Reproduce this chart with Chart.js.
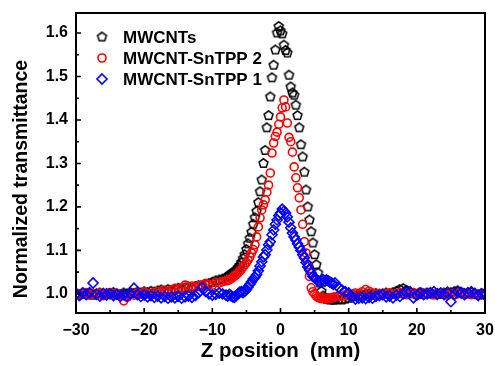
<!DOCTYPE html>
<html>
<head>
<meta charset="utf-8">
<script src="https://cdn.jsdelivr.net/npm/chart.js"></script>
<style>
  html, body { margin: 0; padding: 0; background: #fff; }
  canvas { display: block; }
</style>
</head>
<body>
<canvas id="zscan" width="495" height="366"></canvas>
<script>
// z positions (mm), shared by all three series
var zPos = [
  -30,-29.5,-29,-28.5,-28,-27.5,-27,-26.5,-26,-25.5,
  -25,-24.5,-24,-23.5,-23,-22.5,-22,-21.5,-21,-20.5,
  -20,-19.5,-19,-18.5,-18,-17.5,-17,-16.5,-16,-15.5,
  -15,-14.5,-14,-13.5,-13,-12.5,-12,-11.5,-11,-10.5,
  -10,-9.5,-9,-8.5,-8,
  -7.75,-7.5,-7.25,-7,-6.75,-6.5,-6.25,-6,-5.75,-5.5,
  -5.25,-5,-4.75,-4.5,-4.25,-4,-3.75,-3.5,-3.25,-3,
  -2.75,-2.5,-2.25,-2,-1.75,-1.5,-1.25,-1,-0.75,-0.5,
  -0.25,0,0.25,0.5,0.75,1,1.25,1.5,1.75,2,
  2.25,2.5,2.75,3,3.25,3.5,3.75,4,4.25,4.5,
  4.75,5,5.25,5.5,5.75,6,6.25,6.5,6.75,7,
  7.25,7.5,7.75,
  8,8.5,9,9.5,10,10.5,11,11.5,12,12.5,
  13,13.5,14,14.5,15,15.5,16,16.5,17,17.5,
  18,18.5,19,19.5,20,20.5,21,21.5,22,22.5,
  23,23.5,24,24.5,25,25.5,26,26.5,27,27.5,
  28,28.5,29,29.5,30
];

var mwcnt = [
  1.000,0.998,1.002,0.999,1.001,0.997,1.000,1.002,0.998,1.001,
  0.999,1.003,1.000,0.998,1.002,1.000,1.003,1.001,1.004,1.002,
  1.005,1.003,1.006,1.004,1.007,1.009,1.006,1.010,1.008,1.011,
  1.013,1.010,1.014,1.016,1.013,1.017,1.019,1.018,1.022,1.024,
  1.027,1.030,1.032,1.034,1.037,
  1.040,1.043,1.046,1.048,1.051,1.055,1.060,1.065,1.072,1.081,
  1.090,1.102,1.115,1.128,1.142,1.160,1.175,1.190,1.210,1.235,
  1.262,1.300,1.330,1.382,1.410,1.453,1.497,1.526,1.561,1.600,
  1.615,1.605,1.598,1.572,1.560,1.554,1.503,1.476,1.462,1.457,
  1.434,1.410,1.382,1.343,1.315,1.280,1.239,1.200,1.170,1.143,
  1.117,1.090,1.067,1.048,1.025,1.006,0.995,0.990,0.988,0.987,
  0.986,0.987,0.986,
  0.986,0.987,0.986,0.988,0.990,0.993,0.995,0.997,0.997,0.999,
  1.000,0.998,1.001,0.999,1.000,1.002,1.000,1.003,1.006,1.010,
  1.012,1.008,1.003,1.000,0.998,1.001,0.999,1.002,1.000,0.998,
  1.001,0.999,1.002,1.000,1.003,1.005,1.007,1.004,1.001,1.000,
  1.003,1.000,0.998,1.001,1.000
];

var snTPP2 = [
  1.002,0.998,1.000,1.003,0.997,1.001,0.999,1.002,0.996,1.000,
  1.003,0.998,1.001,0.995,0.984,0.992,1.000,0.997,1.002,0.999,
  1.004,1.001,0.998,1.003,1.006,1.004,1.008,1.005,1.009,1.012,
  1.010,1.014,1.020,1.016,1.018,1.015,1.019,1.021,1.024,1.022,
  1.020,1.026,1.025,1.028,1.030,
  1.031,1.032,1.035,1.038,1.041,1.044,1.048,1.052,1.056,1.062,
  1.067,1.072,1.078,1.085,1.094,1.102,1.113,1.131,1.154,1.175,
  1.193,1.205,1.216,1.234,1.250,1.278,1.324,1.347,1.362,1.372,
  1.390,1.407,1.428,1.446,1.430,1.393,1.360,1.350,1.326,1.292,
  1.267,1.244,1.221,1.193,1.160,1.120,1.094,1.067,1.040,1.014,
  1.005,1.000,0.995,0.992,0.990,0.989,0.991,0.988,0.990,0.989,
  0.991,0.990,0.992,
  0.993,0.995,0.994,0.997,0.996,0.999,1.002,1.000,1.005,1.010,
  1.006,1.002,0.999,1.001,0.998,1.000,1.002,0.999,1.001,1.003,
  1.000,0.998,1.001,1.003,1.000,1.004,1.002,0.999,1.001,0.998,
  1.000,1.002,0.999,0.997,1.001,0.998,1.000,1.002,0.999,1.001,
  0.998,1.000,0.997,0.999,0.996
];

var snTPP1 = [
  1.000,0.996,1.002,0.998,1.003,1.025,0.999,0.995,1.001,0.997,
  1.000,0.996,0.999,0.994,0.998,0.995,1.000,1.013,0.998,0.994,
  0.997,0.993,0.996,0.992,0.995,0.991,0.994,0.990,0.993,0.991,
  0.994,0.990,0.993,0.995,0.992,0.996,1.003,1.014,1.006,1.000,
  0.997,0.999,1.002,1.000,0.997,
  0.995,0.999,0.996,0.993,0.992,0.996,1.000,1.004,1.005,1.003,
  1.006,1.010,1.016,1.022,1.028,1.034,1.038,1.044,1.053,1.064,
  1.074,1.085,1.090,1.101,1.113,1.120,1.136,1.147,1.160,1.170,
  1.180,1.186,1.195,1.190,1.186,1.177,1.165,1.152,1.140,1.131,
  1.124,1.115,1.108,1.100,1.090,1.083,1.072,1.062,1.055,1.048,
  1.040,1.037,1.034,1.030,1.028,1.031,1.033,1.029,1.032,1.030,
  1.027,1.025,1.022,
  1.025,1.015,1.009,1.005,1.002,0.993,0.988,0.990,0.991,0.989,
  0.992,0.990,0.994,0.996,0.998,0.993,0.995,0.991,0.997,0.994,
  1.000,1.004,1.005,0.991,0.997,1.002,0.998,1.000,1.003,1.005,
  0.999,1.002,0.998,1.004,0.982,0.999,1.005,1.002,0.998,1.003,
  1.005,1.001,0.996,1.000,0.998
];

var seriesNames = ['MWCNTs', 'MWCNT-SnTPP 2', 'MWCNT-SnTPP 1'];
var xTicks = [-30, -20, -10, 0, 10, 20, 30];
var yTicks = [1.0, 1.1, 1.2, 1.3, 1.4, 1.5, 1.6];
var yTitle = 'Normalized transmittance';

function pts(ys) {
  var out = [];
  for (var i = 0; i < zPos.length; i++) out.push({x: zPos[i], y: ys[i]});
  return out;
}

// hollow pentagon marker, chart.js has no pentagon point style
function makePentagon(r, color, lw) {
  var c = document.createElement('canvas');
  var s = Math.ceil(2 * r + lw + 2);
  c.width = s; c.height = s;
  var g = c.getContext('2d');
  g.strokeStyle = color;
  g.lineWidth = lw;
  g.beginPath();
  for (var i = 0; i < 5; i++) {
    var a = -Math.PI / 2 + i * 2 * Math.PI / 5;
    var px = s / 2 + r * Math.cos(a), py = s / 2 + r * Math.sin(a);
    if (i) g.lineTo(px, py); else g.moveTo(px, py);
  }
  g.closePath();
  g.stroke();
  return c;
}
var pentagon = makePentagon(4.7, '#000', 1.5);

var boldFont = 'Liberation Sans, Arial, Helvetica, sans-serif';

// frame, inward ticks (major + minor), y title and the in-plot legend
var framePlugin = {
  id: 'frame',
  afterDatasetsDraw: function(chart) {
    var ctx = chart.ctx, a = chart.chartArea;
    var xs = chart.scales.x, ys = chart.scales.y;
    ctx.save();
    ctx.strokeStyle = '#000';
    ctx.lineWidth = 1.6;
    ctx.beginPath();
    var i, p, m;
    for (i = 0; i < xTicks.length; i++) {
      p = xs.getPixelForValue(xTicks[i]);
      ctx.moveTo(p, a.bottom); ctx.lineTo(p, a.bottom - 5);
      if (i < xTicks.length - 1) {
        m = xs.getPixelForValue((xTicks[i] + xTicks[i + 1]) / 2);
        ctx.moveTo(m, a.bottom); ctx.lineTo(m, a.bottom - 3);
      }
    }
    for (i = 0; i < yTicks.length; i++) {
      p = ys.getPixelForValue(yTicks[i]);
      ctx.moveTo(a.left, p); ctx.lineTo(a.left + 5, p);
      if (i < yTicks.length - 1) {
        m = ys.getPixelForValue((yTicks[i] + yTicks[i + 1]) / 2);
        ctx.moveTo(a.left, m); ctx.lineTo(a.left + 3, m);
      }
    }
    ctx.stroke();
    ctx.lineWidth = 2;
    ctx.strokeRect(a.left, a.top, a.right - a.left, a.bottom - a.top);

    // y title, sits a bit below the plot centre like the original
    ctx.save();
    ctx.translate(22, 179);
    ctx.rotate(-Math.PI / 2);
    ctx.font = 'bold 19.5px ' + boldFont;
    ctx.fillStyle = '#000';
    ctx.textAlign = 'center';
    ctx.textBaseline = 'middle';
    ctx.fillText(yTitle, 0, 0);
    ctx.restore();

    // legend
    var lx = 102, ly = 37, gap = 21;
    ctx.font = 'bold 17px ' + boldFont;
    ctx.fillStyle = '#000';
    ctx.textBaseline = 'middle';
    ctx.textAlign = 'left';
    chart.data.datasets.forEach(function(ds, k) {
      var yy = ly + k * gap;
      ctx.lineWidth = ds.borderWidth;
      ctx.strokeStyle = ds.borderColor;
      if (ds.pointStyle === 'circle') {
        ctx.beginPath(); ctx.arc(lx, yy, ds.pointRadius, 0, Math.PI * 2); ctx.stroke();
      } else if (ds.pointStyle === 'rectRot') {
        var r = ds.pointRadius;
        ctx.beginPath();
        ctx.moveTo(lx, yy - r); ctx.lineTo(lx + r, yy); ctx.lineTo(lx, yy + r); ctx.lineTo(lx - r, yy);
        ctx.closePath(); ctx.stroke();
      } else {
        ctx.drawImage(ds.pointStyle, lx - ds.pointStyle.width / 2, yy - ds.pointStyle.height / 2);
      }
      ctx.fillText(ds.label, 123, yy + 1);
    });
    ctx.restore();
  }
};

var config = {
  type: 'scatter',
  data: {
    datasets: [{
      label: seriesNames[0],
      data: pts(mwcnt),
      pointStyle: pentagon,
      pointRadius: 5,
      borderColor: '#000',
      backgroundColor: 'rgba(0,0,0,0)',
      borderWidth: 1.5,
      order: 3
    }, {
      label: seriesNames[1],
      data: pts(snTPP2),
      pointStyle: 'circle',
      pointRadius: 4,
      borderColor: '#ff0000',
      backgroundColor: 'rgba(0,0,0,0)',
      borderWidth: 1.6,
      order: 2
    }, {
      label: seriesNames[2],
      data: pts(snTPP1),
      pointStyle: 'rectRot',
      pointRadius: 5,
      borderColor: '#0000ff',
      backgroundColor: 'rgba(0,0,0,0)',
      borderWidth: 1.6,
      order: 1
    }]
  },
  options: {
    responsive: false,
    animation: false,
    layout: { padding: { left: 0, right: 10, top: 13, bottom: 0 } },
    plugins: { legend: { display: false }, tooltip: { enabled: false } },
    scales: {
      x: {
        type: 'linear', min: -30, max: 30,
        afterBuildTicks: function(s) { s.ticks = xTicks.map(function(v) { return {value: v}; }); },
        afterFit: function(s) { s.height = 53; s.paddingLeft = 0; s.paddingRight = 0; },
        grid: { display: false, drawTicks: false },
        border: { display: false },
        ticks: {
          color: '#000', padding: 8, maxRotation: 0,
          font: { family: boldFont, size: 16, weight: 'bold' },
          callback: function(v) { return v < 0 ? '\u2212' + Math.abs(v) : '' + v; }
        },
        title: {
          display: true, text: 'Z position  (mm)', color: '#000',
          font: { family: boldFont, size: 20.5, weight: 'bold' },
          padding: { top: 0, bottom: 2 }
        }
      },
      y: {
        type: 'linear', min: 0.956, max: 1.646,
        afterBuildTicks: function(s) { s.ticks = yTicks.map(function(v) { return {value: v}; }); },
        afterFit: function(s) { s.width = 76; s.paddingTop = 0; s.paddingBottom = 0; },
        grid: { display: false, drawTicks: false },
        border: { display: false },
        ticks: {
          color: '#000', padding: 8,
          font: { family: boldFont, size: 16, weight: 'bold' },
          callback: function(v) { return v.toFixed(1); }
        },
        title: { display: false }
      }
    }
  },
  plugins: [framePlugin]
};

var ctx = document.getElementById('zscan');
window.zChart = new Chart(ctx, config);
</script>
</body>
</html>
